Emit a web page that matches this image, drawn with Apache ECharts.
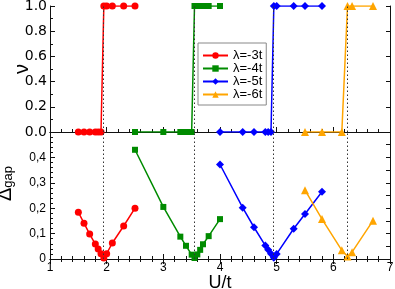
<!DOCTYPE html>
<html>
<head>
<meta charset="utf-8">
<script src="https://cdn.jsdelivr.net/npm/echarts@6/dist/echarts.min.js"></script>
<style>html,body{margin:0;padding:0;background:#fff}#c{width:395px;height:289px}</style>
</head>
<body>
<div id="c"></div>
<script>
// ---- data ----
const seriesNames = ['λ=-3t', 'λ=-4t', 'λ=-5t', 'λ=-6t'];
const uRed = [1.5, 1.6, 1.7, 1.8, 1.85, 1.9, 1.95, 2.0, 2.1, 2.3, 2.5];
const nuRed = [0, 0, 0, 0, 0, 0, 1, 1, 1, 1, 1];
const gapRed = [0.184, 0.141, 0.098, 0.059, 0.039, 0.021, 0.004, 0.021, 0.063, 0.13, 0.2];

const uGreen = [2.5, 3.0, 3.3, 3.4, 3.5, 3.55, 3.6, 3.65, 3.7, 3.8, 4.0];
const nuGreen = [0, 0, 0, 0, 0, 1, 1, 1, 1, 1, 1];
const gapGreen = [0.43, 0.205, 0.088, 0.052, 0.017, 0.004, 0.018, 0.036, 0.058, 0.09, 0.157];

const uBlue = [4.0, 4.4, 4.6, 4.8, 4.85, 4.9, 4.95, 5.0, 5.3, 5.5, 5.8];
const nuBlue = [0, 0, 0, 0, 0, 0, 1, 1, 1, 1, 1];
const gapBlue = [0.372, 0.202, 0.125, 0.053, 0.036, 0.021, 0.005, 0.02, 0.119, 0.177, 0.265];

const uOrange = [5.5, 5.8, 6.15, 6.25, 6.33, 6.7];
const nuOrange = [0, 0, 0, 1, 1, 1];
const gapOrange = [0.271, 0.157, 0.034, 0.01, 0.027, 0.151];

const criticalU = [1.94, 3.54, 4.94, 6.24];

const xTicks = [1, 2, 3, 4, 5, 6, 7];
const nuTicks = [0, 0.2, 0.4, 0.6, 0.8, 1.0];
const gapTicks = [0, 0.1, 0.2, 0.3, 0.4];

// ---- styles ----
const colors = ['#ff0000', '#008b00', '#0000ff', '#ffa500'];
const symbols = ['circle', 'rect', 'diamond', 'triangle'];
const sizes = [7, 6, 8, 8];
const FONT = 'Liberation Sans, Arial, Helvetica, sans-serif';
const WIDE = 'DejaVu Sans, Liberation Sans, sans-serif';
const AX = '#111';

const sets = [
  [uRed, nuRed, gapRed],
  [uGreen, nuGreen, gapGreen],
  [uBlue, nuBlue, gapBlue],
  [uOrange, nuOrange, gapOrange]
];

const pair = (xs, ys) => xs.map((x, i) => [x, ys[i]]);
const dotted = {
  silent: true,
  symbol: ['none', 'none'],
  label: { show: false },
  lineStyle: { type: [1.5, 2.5], color: '#333', width: 1 },
  emphasis: { disabled: true },
  data: criticalU.map(u => ({ xAxis: u }))
};

const series = [];
sets.forEach((s, i) => {
  const base = {
    name: seriesNames[i],
    type: 'line',
    symbol: symbols[i],
    symbolSize: sizes[i],
    showSymbol: true,
    color: colors[i],
    itemStyle: { color: colors[i] },
    lineStyle: { color: colors[i], width: 1.5 },
    animation: false,
    z: 3
  };
  series.push(Object.assign({}, base, {
    xAxisIndex: 0, yAxisIndex: 0,
    data: pair(s[0], s[1]),
    markLine: i === 0 ? dotted : undefined
  }));
  series.push(Object.assign({}, base, {
    xAxisIndex: 2, yAxisIndex: 2,
    data: pair(s[0], s[2]),
    markLine: i === 0 ? dotted : undefined
  }));
});

const xBase = {
  type: 'value', min: xTicks[0], max: xTicks[xTicks.length - 1], interval: 1,
  axisLine: { show: true, lineStyle: { color: AX, width: 1 } },
  splitLine: { show: false }
};
const tickIn = (len) => ({ show: true, inside: true, length: len, lineStyle: { color: AX } });

const option = {
  backgroundColor: '#fff',
  animation: false,
  textStyle: { fontFamily: FONT },
  grid: [
    { left: 50, top: 6, width: 340, height: 126, containLabel: false, outerBoundsMode: 'none' },
    { left: 50, top: 132, width: 340, height: 127, containLabel: false, outerBoundsMode: 'none' }
  ],
  legend: {
    data: seriesNames,
    orient: 'vertical',
    left: 198, top: 43,
    itemWidth: 25, itemHeight: 8, itemGap: 0,
    padding: [6, 4, 4, 4],
    borderColor: '#888', borderWidth: 1,
    backgroundColor: '#fff',
    textStyle: { fontFamily: FONT, fontSize: 13, lineHeight: 13, color: '#000' },
    z: 10
  },
  xAxis: [
    Object.assign({}, xBase, {
      gridIndex: 0, position: 'bottom',
      axisTick: tickIn(5),
      minorTick: { show: true, splitNumber: 5, length: 3, lineStyle: { color: AX } },
      axisLabel: { show: false }
    }),
    Object.assign({}, xBase, {
      gridIndex: 0, position: 'top',
      axisTick: { show: false }, axisLabel: { show: false }
    }),
    Object.assign({}, xBase, {
      gridIndex: 1, position: 'top',
      axisTick: tickIn(5),
      minorTick: { show: true, splitNumber: 5, length: 3, lineStyle: { color: AX } },
      axisLabel: { show: false }
    }),
    Object.assign({}, xBase, {
      gridIndex: 1, position: 'bottom',
      axisTick: tickIn(5),
      minorTick: { show: true, splitNumber: 5, length: 3, lineStyle: { color: AX } },
      axisLabel: { show: true, fontSize: 12, color: '#000', margin: 3, fontFamily: FONT },
      name: 'U/t', nameLocation: 'middle', nameGap: 15, nameMoveOverlap: false,
      nameTextStyle: { fontSize: 18, color: '#000', fontFamily: FONT }
    })
  ],
  yAxis: [
    {
      type: 'value', gridIndex: 0, position: 'left',
      min: nuTicks[0], max: nuTicks[nuTicks.length - 1], interval: 0.2,
      axisLine: { show: true, lineStyle: { color: AX } },
      axisTick: tickIn(5),
      minorTick: { show: true, splitNumber: 2, length: 3, lineStyle: { color: AX } },
      splitLine: { show: false },
      axisLabel: { fontSize: 14, color: '#000', margin: 3, fontFamily: WIDE, formatter: v => v.toFixed(1) },
      name: 'ν', nameLocation: 'middle', nameGap: 18, nameRotate: 90, nameMoveOverlap: false,
      nameTextStyle: { fontSize: 20, color: '#000', fontFamily: FONT }
    },
    {
      type: 'value', gridIndex: 0, position: 'right',
      min: 0, max: 1, interval: 0.2,
      axisLine: { show: true, lineStyle: { color: AX } },
      axisTick: tickIn(4),
      splitLine: { show: false },
      axisLabel: { show: false }
    },
    {
      type: 'value', gridIndex: 1, position: 'left',
      min: gapTicks[0], max: 0.5, interval: 0.1,
      axisLine: { show: true, lineStyle: { color: AX } },
      axisTick: tickIn(5),
      minorTick: { show: true, splitNumber: 5, length: 3, lineStyle: { color: AX } },
      splitLine: { show: false },
      axisLabel: {
        fontSize: 12, color: '#000', margin: 4, fontFamily: FONT, showMaxLabel: false,
        formatter: v => (v === 0 ? '0' : v.toFixed(1).replace('.', ','))
      },
      name: '{d|Δ}{g|gap}', nameLocation: 'middle', nameGap: 35, nameRotate: 90, nameMoveOverlap: false,
      nameTextStyle: {
        color: '#000', fontFamily: FONT, padding: [0, 0, 0, 24],
        rich: {
          d: { fontSize: 20, color: '#000', fontFamily: FONT, verticalAlign: 'bottom' },
          g: { fontSize: 13, color: '#000', fontFamily: FONT, verticalAlign: 'bottom', padding: [7, 0, 0, 0] }
        }
      }
    },
    {
      type: 'value', gridIndex: 1, position: 'right',
      min: 0, max: 0.5, interval: 0.05,
      axisLine: { show: true, lineStyle: { color: AX } },
      axisTick: tickIn(4),
      splitLine: { show: false },
      axisLabel: { show: false }
    }
  ],
  series: series
};

const chart = echarts.init(document.getElementById('c'), null, { renderer: 'canvas' });
chart.setOption(option);
</script>
</body>
</html>
